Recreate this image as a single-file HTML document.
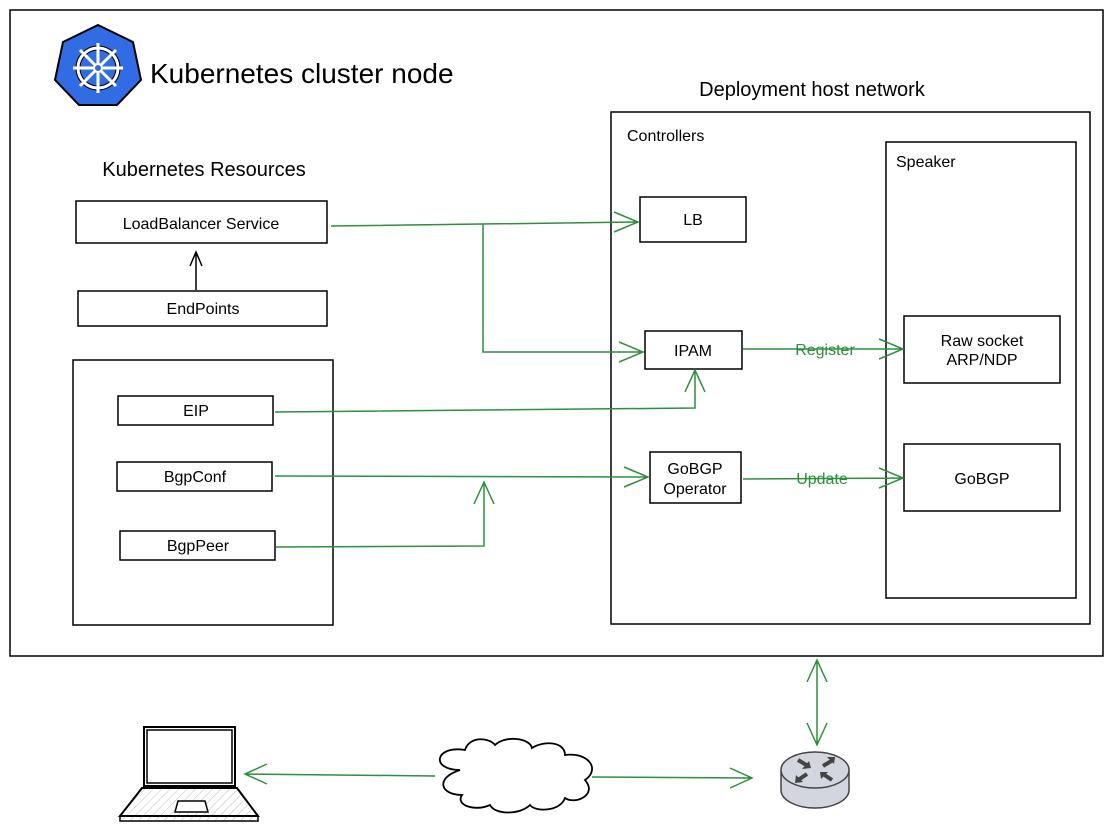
<!DOCTYPE html>
<html><head><meta charset="utf-8"><style>
body{margin:0;background:#fff;}
svg text{font-family:"Liberation Sans",Arial,sans-serif;}
</style></head><body>
<svg width="1113" height="833" viewBox="0 0 1113 833" xmlns="http://www.w3.org/2000/svg">
<defs>
<pattern id="h" width="6" height="6" patternUnits="userSpaceOnUse" patternTransform="rotate(45)"><line x1="0" y1="0" x2="0" y2="6" stroke="#bbb" stroke-width="1"/></pattern>
</defs>
<g fill="none" stroke="#000" stroke-width="1.5">
<rect x="10" y="10" width="1093" height="646"/>
<rect x="611" y="112" width="479" height="512"/>
<rect x="886" y="142" width="190" height="456"/>
<rect x="76" y="201" width="251" height="42"/>
<rect x="78" y="291" width="249" height="35"/>
<rect x="73" y="360" width="260" height="265"/>
<rect x="118" y="396" width="155" height="29"/>
<rect x="117" y="462" width="155" height="29"/>
<rect x="120" y="531" width="155" height="29"/>
<rect x="640" y="197" width="106" height="45"/>
<rect x="645" y="331" width="97" height="38"/>
<rect x="650" y="452" width="91" height="51"/>
<rect x="904" y="316" width="156" height="67"/>
<rect x="904" y="444" width="156" height="67"/>
</g>
<!-- logo -->
<polygon points="98,25 133,42 141,80 117,105 79,105 55,80 63,42" fill="#326ce5" stroke="#000" stroke-width="2"/>
<g stroke="#000" stroke-width="5" fill="none"><circle cx="98" cy="68" r="20"/></g>
<g stroke="#fff" stroke-width="3" fill="none"><circle cx="98" cy="68" r="20"/>
<path d="M98,43V93M73,68H123M80,50L116,86M116,50L80,86"/></g>
<circle cx="98" cy="68" r="4" fill="#326ce5" stroke="#fff" stroke-width="2"/>
<g font-size="16" fill="#000" text-anchor="middle">
<text x="150" y="83" font-size="28" text-anchor="start">Kubernetes cluster node</text>
<text x="812" y="96" font-size="20">Deployment host network</text>
<text x="204" y="176" font-size="20">Kubernetes Resources</text>
<text x="627" y="141" text-anchor="start">Controllers</text>
<text x="896" y="167" text-anchor="start">Speaker</text>
<text x="201" y="229">LoadBalancer Service</text>
<text x="203" y="314">EndPoints</text>
<text x="196" y="416">EIP</text>
<text x="195" y="482">BgpConf</text>
<text x="198" y="551">BgpPeer</text>
<text x="693" y="225">LB</text>
<text x="693" y="356">IPAM</text>
<text x="695" y="474">GoBGP</text>
<text x="695" y="494">Operator</text>
<text x="982" y="346">Raw socket</text>
<text x="982" y="365">ARP/NDP</text>
<text x="982" y="484">GoBGP</text>
<text x="825" y="355" fill="#2d8f3c">Register</text>
<text x="822" y="484" fill="#2d8f3c">Update</text>
</g>
<path d="M196,290V253M190,266L196,252L202,266" stroke="#000" stroke-width="1.5" fill="none"/>
<g stroke="#2d8f3c" stroke-width="1.5" fill="none">
<path d="M331,226L638,222M614,212L638,222L614,232"/>
<path d="M483,224V352H643M619,342L643,352L619,362"/>
<path d="M743,349H903M879,339L903,349L879,359"/>
<path d="M275,412L695,408V371M685,392L695,370L705,392"/>
<path d="M275,476L648,477M624,467L648,477L624,487"/>
<path d="M276,547L484,546V483M474,504L484,482L494,504"/>
<path d="M743,479L903,478M879,468L903,478L879,488"/>
<path d="M817,660V745M807,682L817,660L827,682M807,723L817,745L827,723"/>
<path d="M435,776L245,774M267,764L245,774L267,784"/>
<path d="M592,777L752,778M730,768L752,778L730,788"/>
</g>
<!-- laptop -->
<rect x="144" y="727" width="91" height="59" fill="#fff" stroke="#000" stroke-width="2"/>
<rect x="147" y="730" width="85" height="53" fill="#fff" stroke="#000" stroke-width="1.5"/>
<polygon points="142,788 237,788 258,816 120,816" fill="url(#h)" stroke="#000" stroke-width="2"/>
<rect x="120" y="816" width="138" height="5" fill="url(#h)" stroke="#000" stroke-width="1.5"/>
<polygon points="178,801 205,801 208,812 175,812" fill="#fff" stroke="#000" stroke-width="1.5"/>
<!-- cloud -->
<path d="M460,770 C430,770 435,745 465,750 C470,735 490,738 495,745 C505,735 530,738 532,748 C545,740 565,742 565,755 C590,752 600,770 585,780 C598,795 575,805 565,798 C560,812 535,812 530,805 C520,815 495,815 490,805 C475,812 455,805 462,795 C440,795 435,778 460,770 Z" fill="#fff" stroke="#000" stroke-width="1.8"/>
<!-- router -->
<path d="M781,770V790A34,18 0 0 0 849,790V770" fill="#d3d6de" stroke="#444" stroke-width="1.5"/>
<ellipse cx="815" cy="770" rx="34" ry="18" fill="#d3d6de" stroke="#444" stroke-width="1.5"/>
<g stroke="#444" stroke-width="4" fill="none">
<path d="M798,760L808,766M823,766L833,760M807,774L798,780M823,774L832,780"/>
</g>
<g fill="#444">
<polygon points="811,768 802,769 809,761"/><polygon points="835,757 827,757 834,764"/>
<polygon points="795,783 796,775 803,782"/><polygon points="820,772 828,772 821,779"/>
</g>
</svg>
</body></html>
